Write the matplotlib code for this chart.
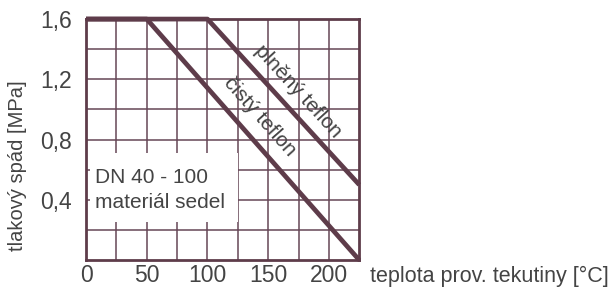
import matplotlib
matplotlib.use("Agg")
import matplotlib.pyplot as plt
from matplotlib.patches import Rectangle

plt.rcParams['font.family'] = ['Liberation Sans', 'DejaVu Sans']

# data
cisty_x = [0, 50, 225]
cisty_y = [1.6, 1.6, 0.0]
pneny_x = [0, 100, 225]
pneny_y = [1.6, 1.6, 0.5]
xticks = [0, 50, 100, 150, 200]
yticks = [0.4, 0.8, 1.2, 1.6]
ytick_labels = ["0,4", "0,8", "1,2", "1,6"]

line_c = "#5e3c4a"
grid_c = "#664656"
text_c = "#444444"

fig = plt.figure(figsize=(6.1, 2.89), dpi=100)
ax = fig.add_axes([0.141, 0.100, 0.448, 0.834])
ax.set_xlim(0, 225)
ax.set_ylim(0, 1.6)

for gx in range(25, 225, 25):
    ax.axvline(gx, color=grid_c, lw=1.1, zorder=1)
for gy in [0.2, 0.4, 0.6, 0.8, 1.0, 1.2, 1.4]:
    ax.axhline(gy, color=grid_c, lw=1.1, zorder=1)

# white box for label
ax.add_patch(Rectangle((3, 0.25), 122, 0.46, facecolor="white", edgecolor="none", zorder=2))
ax.text(7, 0.55, "DN 40 - 100", fontsize=15, color=text_c, va="center", ha="left", zorder=3)
ax.text(7, 0.385, "materiál sedel", fontsize=15, color=text_c, va="center", ha="left", zorder=3)

ax.plot(cisty_x, cisty_y, color=line_c, lw=3.4, zorder=4, solid_capstyle="butt", clip_on=False)
ax.plot(pneny_x, pneny_y, color=line_c, lw=3.4, zorder=4, solid_capstyle="butt", clip_on=False)

ax.text(175, 1.12, "plněný teflon", fontsize=15, color=text_c, rotation=-47.5,
        ha="center", va="center", rotation_mode="anchor", zorder=3)
ax.text(143, 0.95, "čistý teflon", fontsize=15, color=text_c, rotation=-48.5,
        ha="center", va="center", rotation_mode="anchor", zorder=3)

for s in ax.spines.values():
    s.set_color(line_c)
    s.set_linewidth(2.0)

ax.set_xticks(xticks)
ax.set_xticklabels([str(v) for v in xticks])
ax.set_yticks(yticks)
ax.set_yticklabels(ytick_labels)
ax.tick_params(length=0, labelsize=16.5, colors=text_c)
ax.tick_params(axis="x", pad=3)
ax.tick_params(axis="y", pad=10)
ax.set_ylabel("tlakový spád [MPa]", fontsize=14.5, color=text_c)
ax.yaxis.set_label_coords(-0.215, 0.39)
fig.text(0.607, 0.045, "teplota prov. tekutiny [°C]", fontsize=15.5, color=text_c, ha="left", va="center")

fig.savefig("out.png", dpi=100)
